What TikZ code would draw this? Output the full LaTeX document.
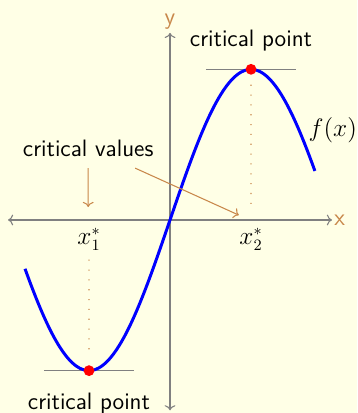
\documentclass[tikz,border=0pt]{standalone}
\usepackage{tikz}
\usetikzlibrary{arrows.meta,positioning,calc}
\definecolor{paper}{HTML}{FFFFE6}
\definecolor{note}{HTML}{C8874A}
\definecolor{curve}{HTML}{0000FF}
\tikzset{
 axis/.style={gray,<->,line width=.6pt},
 tangent/.style={gray,line width=.9pt},
 guide/.style={note,line width=.6pt,dash pattern=on .6pt off 5pt},
 hint/.style={note,->,line width=.6pt}}

\begin{document}
\begin{tikzpicture}[scale=1.62,font=\sffamily\fontsize{13.5}{16}\selectfont]
\fill[paper] (-2.099,-2.383) rectangle (2.309,2.716);
\useasboundingbox (-2.099,-2.383) rectangle (2.309,2.716);
% axes
\draw[axis] (-2,0) -- (2,0) node[right,note,inner sep=1pt] (xl) {x};
\draw[axis] (0,-2.35) -- (0,2.31) node[above,note,inner sep=1.5pt] (yl) {y};
% critical points
\foreach \s/\n/\p/\d in {1/2/above/.25,-1/1/below/.33}{
 \coordinate (c\n) at (\s,{1.86*\s});
 \draw[tangent] ($(c\n)+(-.556,0)$) -- ($(c\n)+(.556,0)$);
 \node[\p=\d cm of c\n] (cp\n) {critical point};
 \node[below=1pt] (x\n) at (\s,0) {$x_\n^*$};
}
\draw[guide] ($(c2)+(0,-.19)$) -- (1,.1);
\draw[guide] (-1,-.49) -- ($(c1)+(0,.2)$);
% curve
\draw[curve,line width=1.7pt,domain=-1.79:1.79,samples=80,smooth]
 plot (\x,{1.86*sin(90*\x)});
\fill[red] (c2) circle (1.9pt);
\fill[red] (c1) circle (1.9pt);
\node (fx) at (2.01,1.11) {$f(x)$};
% critical values
\node (cv) at (-1.01,.89) {critical values};
\coordinate (a1) at (-1.01,.64);
\coordinate (a2) at (-.43,.64);
\draw[hint] (a1) -- (-1.01,.16);
\draw[hint] (a2) -- (.85,.06);
\end{tikzpicture}
\end{document}
